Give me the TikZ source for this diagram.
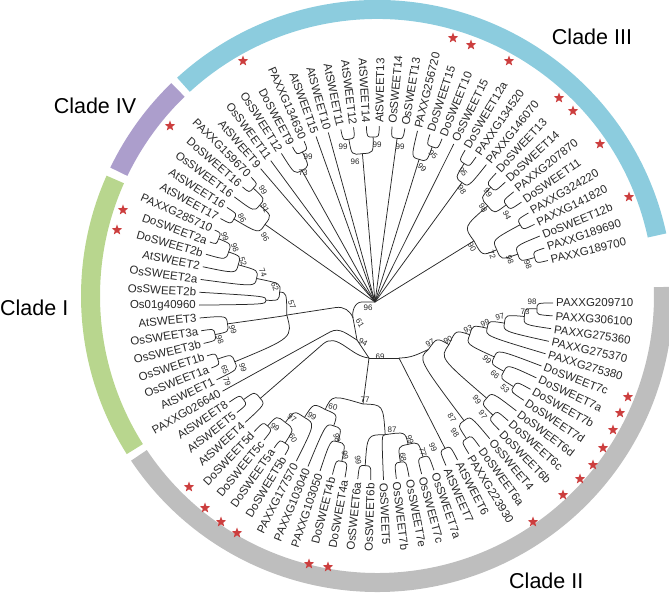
\documentclass[tikz,border=0pt]{standalone}
\usepackage{fontspec}
\setmainfont{Liberation Sans}
\usetikzlibrary{calc,shapes.geometric}
\definecolor{cIII}{RGB}{140,204,222}
\definecolor{cIV}{RGB}{172,158,204}
\definecolor{cI}{RGB}{184,214,142}
\definecolor{cII}{RGB}{190,190,190}
\definecolor{starred}{RGB}{204,62,62}
\definecolor{ink}{RGB}{40,40,40}
\newcommand\brc[2]{\draw[br] let \p1=($(#1)-(O)$), \n1={veclen(\x1,\y1)} in (#1) .. controls ($(O)!\n1!(#2)$) .. (#2);}
\begin{document}
\begin{tikzpicture}[x=1pt,y=1pt,
  br/.style={line width=0.75pt,ink},
  leaf/.style={font=\fontsize{11.5}{12}\selectfont,inner sep=0.5pt,text=ink},
  bs/.style={font=\fontsize{8}{8}\selectfont,inner sep=0pt,text=ink},
  redstar/.style={star,star points=5,star point ratio=2.4,fill=starred,minimum size=11pt,inner sep=0pt},
  cladelab/.style={font=\fontsize{21.5}{22}\selectfont,inner sep=0pt}]
\useasboundingbox (0,0) rectangle (669,594);
\coordinate (O) at (376,291);
\coordinate (RC) at (377,298);
% ---- clade rings
\draw[line width=19pt,cIII] ($(RC)+(12.2:286.5)$) arc[start angle=12.2,end angle=132.5,radius=286.5pt];
\draw[line width=19pt,cIV] ($(RC)+(134:286.5)$) arc[start angle=134,end angle=154.3,radius=286.5pt];
\draw[line width=19pt,cI] ($(RC)+(156:286.5)$) arc[start angle=156,end angle=212.3,radius=286.5pt];
\draw[line width=19pt,cII] ($(RC)+(213.8:286.5)$) arc[start angle=213.8,end angle=361.8,radius=286.5pt];
% ---- clade labels
\node[cladelab] (cl3) at (592,557) {Clade III};
\node[cladelab] (cl4) at (95,488) {Clade IV};
\node[cladelab,anchor=west] (cl1) at (0,286.5) {Clade I};
\node[cladelab,anchor=south west] (cl2) at (509,5) {Clade II};
% ---- leaves
\foreach \i/\nm in {1/PAXXG209710,2/PAXXG306100,3/PAXXG275360,4/PAXXG275370,5/PAXXG275380,6/DoSWEET7c,7/DoSWEET7a,8/DoSWEET7b,9/DoSWEET7d,10/DoSWEET6d,11/DoSWEET6c,12/DoSWEET6b,13/OsSWEET4,14/DoSWEET6a,15/PAXXG223930,16/AtSWEET6,17/AtSWEET7,18/OsSWEET7a,19/OsSWEET7c,20/OsSWEET7e,21/OsSWEET7b,22/OsSWEET5,23/OsSWEET6b,24/OsSWEET6a,25/DoSWEET4a,26/DoSWEET4b,27/PAXXG103050,28/PAXXG103040,29/PAXXG177570,30/DoSWEET5b,31/DoSWEET5a,32/DoSWEET5c,33/DoSWEET5d,34/AtSWEET4,35/AtSWEET5,36/AtSWEET8,37/PAXXG026640,38/AtSWEET1,39/OsSWEET1a,40/OsSWEET1b,41/OsSWEET3b,42/OsSWEET3a,43/AtSWEET3,44/Os01g40960,45/OsSWEET2b,46/OsSWEET2a,47/AtSWEET2,48/DoSWEET2b,49/DoSWEET2a,50/PAXXG285710,51/AtSWEET17,52/AtSWEET16,53/OsSWEET16,54/DoSWEET16,55/PAXXG159670,56/AtSWEET9,57/OsSWEET11,58/OsSWEET12,59/DoSWEET9,60/PAXXG134630,61/AtSWEET15,62/AtSWEET10,63/AtSWEET11,64/AtSWEET12,65/AtSWEET14,66/AtSWEET13,67/OsSWEET14,68/OsSWEET13,69/PAXXG256720,70/DoSWEET15,71/DoSWEET10,72/OsSWEET15,73/DoSWEET12a,74/PAXXG134520,75/PAXXG146070,76/DoSWEET13,77/DoSWEET14,78/PAXXG207870,79/DoSWEET11,80/PAXXG324220,81/PAXXG141820,82/DoSWEET12b,83/PAXXG189690,84/PAXXG189700}{
  \pgfmathsetmacro\ang{-(\i-1)*4.17}
  \pgfmathtruncatemacro\side{cos(\ang)>=0 ? 1 : 0}
  \coordinate (t\i) at ($(O)+(\ang:177)$);
  \ifnum\side=1
    \node[leaf,anchor=west,rotate=\ang] (l\i) at ($(O)+(\ang:179.5)$) {\nm};
  \else
    \pgfmathsetmacro\angb{\ang+180}
    \node[leaf,anchor=east,rotate=\angb] (l\i) at ($(O)+(\ang:179.5)$) {\nm};
  \fi
}
% ---- internal nodes (polar around O)
\foreach \nd/\aa/\rr in {a1/-2.1/161,a2/-5.2/149,a3/-8.9/130,a4/-12.8/114,a5/-18.7/99,b1/-31.3/161,b2/-28.1/145,b3/-24.5/130,c1/-43.8/162,c2/-40.7/146,d1/-56.3/163,d2/-53.2/147,a6/-29.7/84,a7/-41.5/70,e1/-64.6/161,e2/-73/161,e3/-81.3/161,e4/-77.2/145,f1/-93.8/163,e5/-86/132,g1/-102.2/162,g2/-105.3/144,g3/-109/130,h1/-131.4/164,h2/-123/167,h3/-127.2/150,h4/-122/135,i60/-115.5/118,k1/-143.9/164,k2/-140.5/150,m65/-160.5/168,m79/-157.4/153,j98/-168.9/164,j99/-172/150,q/-181.4/110,p99/-202.2/170,p98/-199.1/156,p52/-195.5/143,p74/-191.6/122,p62/-186.5/97,n57/-172.3/90,iv99/136.9/168,iv91/140/152,iv86/149.4/165,iv96/144.7/136,u99/116/168,u73/119.2/152,A99/99.4/166,B99/91/166,AB96/95.2/150,C99/82.7/166,D95/70.2/166,E99/73.3/150,F95/57.7/165,G98/54.5/148,H99/45.2/163,P/37/163,I98/41/148,K94/28.5/164,N98/16/165,M98/19/150,L72/23.8/132,J90/32.4/116}{
  \coordinate (\nd) at ($(O)+(\aa:\rr)$);
}
\coordinate (R) at (375,292);
\coordinate (n61) at (353,276);
\coordinate (n94) at (357,254);
\coordinate (n69) at (369,236);
\coordinate (x1) at (399,236);
\coordinate (n77) at (363,190);
\coordinate (e57) at (336,286.5);
\coordinate (e37) at (330,262);
\coordinate (e34) at (323,250);
% ---- curved branches
\foreach \pa/\ch in {a1/t1,a1/t2,a2/a1,a2/t3,a3/a2,a3/t4,a4/a3,a4/t5,b1/t8,b1/t9,b2/t7,b2/b1,b3/t6,b3/b2,a5/a4,a5/b3,c1/t11,c1/t12,c2/t10,c2/c1,d1/t14,d1/t15,d2/t13,d2/d1,a6/a5,a6/c2,a7/a6,a7/d2,e1/t16,e1/t17,e2/t18,e2/t19,e3/t20,e3/t21,e4/e2,e4/e3,f1/t23,f1/t24,e5/f1,e5/t22,e5/e4,g1/t25,g1/t26,g2/g1,g2/t27,g3/g2,g3/t28,h1/t32,h1/t33,h2/t30,h2/t31,h3/h1,h3/h2,h4/h3,h4/t29,i60/g3,i60/h4,n77/i60,n77/e5,k1/t35,k1/t36,k2/t34,k2/k1,m65/t39,m65/t40,m79/t38,m79/m65,j98/t41,j98/t42,j99/t43,j99/j98,q/t44,q/t45,p99/t49,p99/t50,p98/t48,p98/p99,p52/t47,p52/p98,p74/t46,p74/p52,p62/p74,p62/q,n57/p62,n57/m79,n57/j99,iv99/t54,iv99/t55,iv91/t53,iv91/iv99,iv86/t51,iv86/t52,iv96/iv86,iv96/iv91,u99/t59,u99/t60,u73/t58,u73/u99,A99/t63,A99/t64,B99/t65,B99/t66,AB96/A99,AB96/B99,C99/t67,C99/t68,D95/t70,D95/t71,E99/t69,E99/D95,F95/t73,F95/t74,G98/F95,G98/t75,H99/t76,H99/t77,P/t78,P/t79,I98/H99,I98/P,K94/t80,K94/t81,N98/t83,N98/t84,M98/t82,M98/N98,L72/K94,L72/M98,J90/I98,J90/L72}{
  \brc{\pa}{\ch}
}
% ---- straight branches near the root
\foreach \pa/\ch in {R/iv96,R/t56,R/t57,R/u73,R/t61,R/t62,R/AB96,R/C99,R/E99,R/t72,R/G98,R/J90,n61/n94,n94/n69,n69/x1,n69/n77,x1/e1}{
  \draw[br] (\pa) -- (\ch);
}
\draw[br] (R) -- ++(-13,0) to[out=180,in=100] (n61);
\draw[br] (n57) -- (e57) to[out=8,in=110] (n61);
\draw[br] (n94) to[out=150,in=28.8] (e37) -- (t37);
\draw[br] (n69) to[out=175,in=40.9] (e34) -- (k2);
\draw[br] (x1) to[out=0,in=205] (a7);
% ---- bootstrap values
\foreach \nd/\xx/\yy/\vv/\rt in {ba1/532/292/98/0,ba2/525/282/73/0,ba3/500/277/97/15,ba4/485/271/99/20,ba5/468/265/93/20,ba6/448/254/90/30,ba7/430/251/97/30,bb1/505/205/53/-45,bb2/495/219/66/-45,bb3/487/234/99/-45,bc1/483/179/97/-55,bc2/477/194/99/-55,bd1/455/161/98/-55,bd2/452/176/87/-55,be1/433/147/99/-65,be2/423/142/77/-75,be3/403/137/68/-80,be4/410/154/99/-70,be5/392/164/87/0,bf1/358/134/99/-80,bg1/345/139/99/-80,bg2/337/156/98/-75,bi60/333/187/60/-15,bh4/312/178/99/-30,bh3/292/176/97/-35,bh1/275/167/99/-30,bh2/293/156/60/-60,bn77/365/194/77/0,bn94/363/252/94/-30,bn69/380/237/69/0,bn61/360/271/61/-60,bR/368/286/96/0,bn57/292/289/57/-70,bp62/275/307/62/-70,bp74/263/321/74/-70,bp52/243/332/52/-70,bp98/235/346/98/-70,bp99/225/357/99/-70,bj99/233/264/99/-70,bj98/220/254/98/-70,bm99/243/226/99/-70,bm65/225/224/65/-70,bm79/227/212/79/-70,biv99/263/404/99/-60,biv91/265/386/91/-60,biv86/242/376/86/-60,biv96/265/357/96/-60,bu99/308/437/99/0,bu73/303/421/73/0,bA/343/447/99/0,bB/377/449/99/0,bAB/355/432/96/0,bC/400/447/99/0,bD/433/439/95/-45,bE/422/426/99/-45,bF/463/422/95/-50,bG/462/404/98/-55,bH/488/401/99/-55,bI/483/386/98/-60,bK/507/379/94/-65,bJ/472/347/90/-60,bL/492/339/72/-70,bM/510/334/98/-70,bN/528/329/98/-70}{
  \node[bs,rotate=\rt] (\nd) at (\xx,\yy) {\vv};
}
% ---- stars
\foreach \nd/\xx/\yy in {s1/628/197,s2/620/181,s3/613/164,s4/603/146,s5/593/129,s6/580/115,s7/563/99,s8/533/72,s9/328/27,s10/309/30,s11/237/61,s12/221/72,s13/205/86,s14/189/107,s15/117/364,s16/123/384,s17/170/468,s18/243/533,s19/453/556,s20/471/549,s21/509/533,s22/559/496,s23/573/483,s24/600/450,s25/629/397}{
  \node[redstar] (\nd) at (\xx,\yy) {};
}
\end{tikzpicture}
\end{document}
